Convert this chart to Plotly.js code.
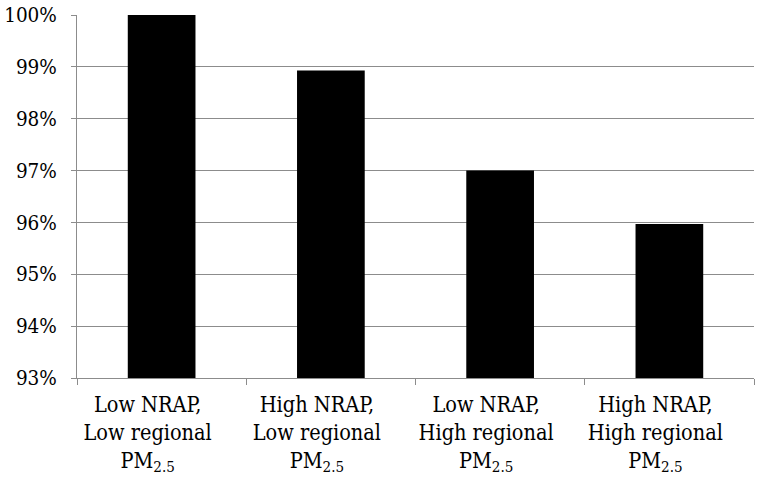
<!DOCTYPE html>
<html>
<head>
<meta charset="utf-8">
<script src="https://cdn.plot.ly/plotly-3.0.1.min.js"></script>
<style>html,body{margin:0;padding:0;background:#fff;}#chart{width:762px;height:483px;}</style>
</head>
<body>
<div id="chart"></div>
<script>
const categories = [
  "Low NRAP,<br>Low regional<br>PM<sub>2.5</sub>",
  "High NRAP,<br>Low regional<br>PM<sub>2.5</sub>",
  "Low NRAP,<br>High regional<br>PM<sub>2.5</sub>",
  "High NRAP,<br>High regional<br>PM<sub>2.5</sub>"
];
const values = [100, 98.93, 97.0, 95.97];
const yTickValues = [93, 94, 95, 96, 97, 98, 99, 100];

const trace = {
  type: 'bar',
  x: categories,
  y: values,
  marker: {color: '#000000', line: {width: 0}},
  hoverinfo: 'skip'
};

const serif = 'DejaVu Serif Condensed, DejaVu Serif';
const layout = {
  width: 762, height: 483,
  margin: {l: 77, r: 8, t: 15, b: 105},
  paper_bgcolor: '#fff', plot_bgcolor: '#fff',
  showlegend: false,
  bargap: 0.6,
  font: {family: serif, size: 20, color: '#000'},
  xaxis: {
    type: 'category',
    showgrid: false,
    showline: true, linecolor: '#8c8c8c', linewidth: 1,
    ticks: 'outside', tickson: 'boundaries', ticklen: 6, tickcolor: '#8c8c8c',
    tickfont: {family: serif, size: 21.5, color: '#000'},
    ticklabelstandoff: 7,
    ticklabelshift: -14,
    fixedrange: true
  },
  yaxis: {
    range: [93, 100],
    tickvals: yTickValues,
    ticktext: yTickValues.map(v => v + '%'),
    tickfont: {family: serif, size: 20.5, color: '#000'},
    showgrid: true, gridcolor: '#8c8c8c', gridwidth: 1,
    showline: true, linecolor: '#8c8c8c', linewidth: 1,
    ticks: 'outside', ticklen: 5, tickcolor: '#8c8c8c',
    ticklabelstandoff: 10,
    zeroline: false,
    fixedrange: true
  }
};

Plotly.newPlot('chart', [trace], layout, {staticPlot: true, displayModeBar: false});
</script>
</body>
</html>
